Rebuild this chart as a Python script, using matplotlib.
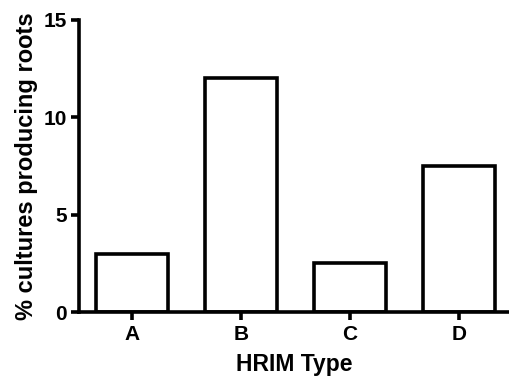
import numpy as np
import matplotlib.pyplot as plt

plt.rcParams['font.family'] = ['Liberation Sans', 'DejaVu Sans']
plt.rcParams['font.weight'] = 'bold'

categories = ['A', 'B', 'C', 'D']
values = [3.0, 12.0, 2.5, 7.5]
yticks = [0, 5, 10, 15]

fig = plt.figure(figsize=(5.10, 3.83), dpi=100)
ax = fig.add_axes([0.155, 0.185, 0.845, 0.763])

x = np.arange(len(categories))
ax.bar(x, values, width=0.66, facecolor='white', edgecolor='black', linewidth=2.6, zorder=3)

ax.set_xlim(-0.486, 3.47)
ax.set_ylim(0, 15)
ax.set_xticks(x)
ax.set_xticklabels(categories)
ax.set_yticks(yticks)

for s in ['top', 'right']:
    ax.spines[s].set_visible(False)
for s in ['left', 'bottom']:
    ax.spines[s].set_linewidth(2.6)
    ax.spines[s].set_zorder(4)

ax.tick_params(axis='both', width=2.6, length=6, labelsize=15, pad=3)
for lab in ax.get_xticklabels() + ax.get_yticklabels():
    lab.set_fontweight('bold')

ax.set_xlabel('HRIM Type', fontsize=16.5, fontweight='bold', labelpad=7)
ax.set_ylabel('% cultures producing roots', fontsize=17, fontweight='bold', labelpad=4)

fig.savefig('out.png', dpi=100)
